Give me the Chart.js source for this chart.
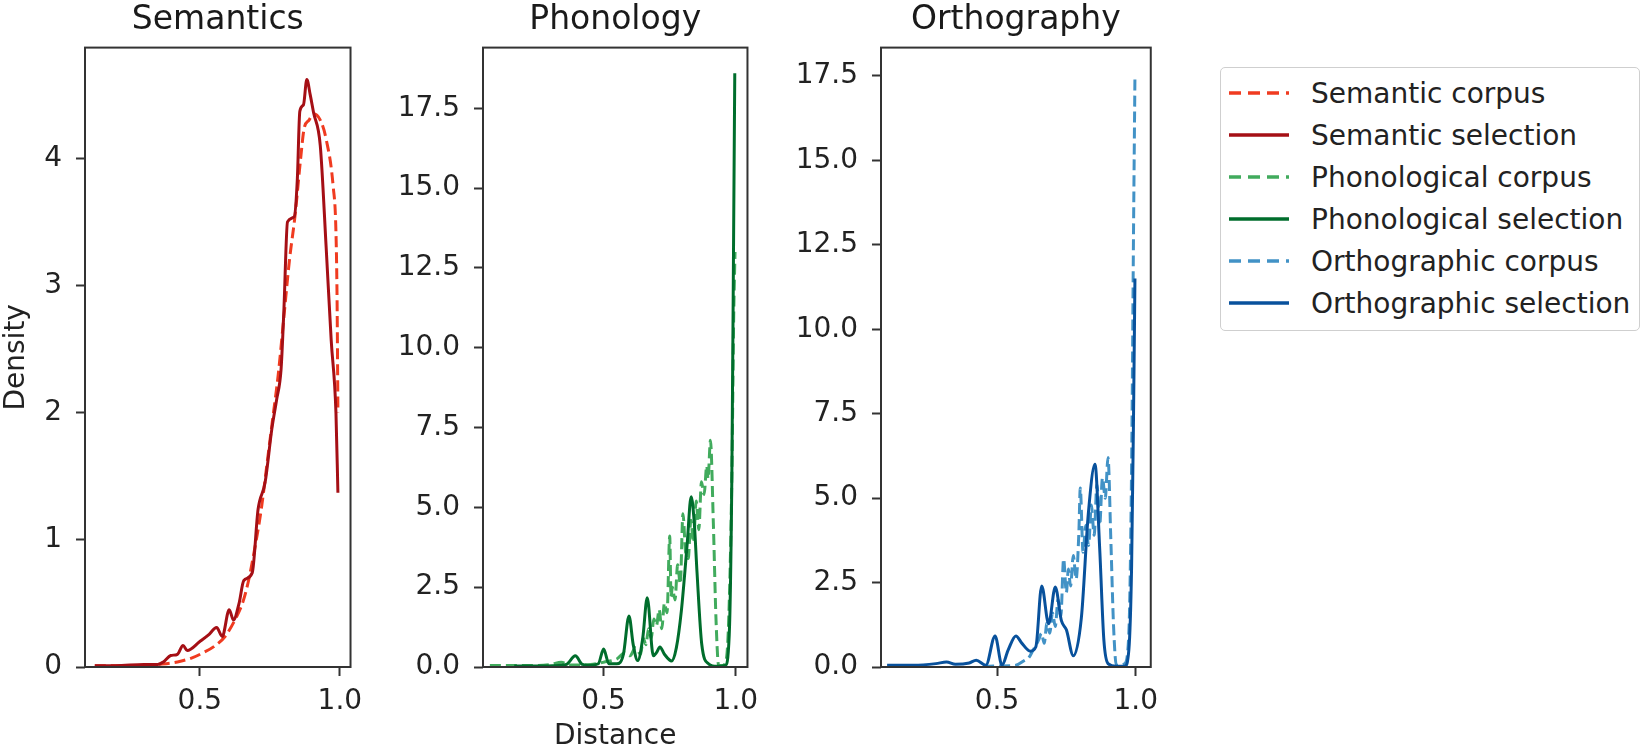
<!DOCTYPE html>
<html>
<head>
<meta charset="utf-8">
<script src="https://cdn.jsdelivr.net/npm/chart.js@4.4.1/dist/chart.umd.min.js"></script>
<style>
  body { margin: 0; background: #fff; font-family: 'DejaVu Sans', sans-serif; }
  .panel { position: absolute; top: 0; }
  #legend { position: absolute; left: 1220px; top: 67px; width: 418px; border: 1px solid #cfcfcf; border-radius: 5px; padding: 4px 0 6px 0; background: #fff; }
  .row { height: 42px; display: flex; align-items: center; font-size: 28px; color: #222; white-space: nowrap; }
  .row svg { margin-left: 8px; margin-right: 22px; }
</style>
</head>
<body>
<div class="panel" style="left:0px"><canvas id="c1" width="372" height="756"></canvas></div>
<div class="panel" style="left:372px"><canvas id="c2" width="396" height="756"></canvas></div>
<div class="panel" style="left:768px"><canvas id="c3" width="400" height="756"></canvas></div>
<div id="legend"></div>
<script>
// semantics
const semSelX = [0.125,0.2,0.3,0.35,0.37,0.396,0.42,0.44,0.455,0.5,0.53,0.56,0.58,0.605,0.62,0.64,0.657,0.687,0.708,0.733,0.757,0.774,0.79,0.80,0.813,0.837,0.848,0.857,0.87,0.882,0.894,0.906,0.93,0.951,0.969,0.986,0.993];
const semSelY = [0.01,0.01,0.02,0.02,0.04,0.09,0.1,0.17,0.13,0.2,0.25,0.31,0.24,0.45,0.37,0.5,0.68,0.74,1.24,1.45,1.87,2.1,2.34,2.8,3.5,3.54,3.83,4.37,4.42,4.62,4.5,4.36,4.1,3.3,2.57,2.0,1.37];
const semCorX = [0.125,0.2,0.3,0.35,0.42,0.47,0.51,0.55,0.59,0.63,0.655,0.674,0.7,0.72,0.74,0.76,0.78,0.8,0.82,0.84,0.86,0.872,0.89,0.906,0.93,0.951,0.976,0.986,0.99,0.993];
const semCorY = [0.01,0.01,0.01,0.02,0.04,0.07,0.11,0.16,0.24,0.39,0.52,0.68,0.98,1.25,1.6,1.95,2.3,2.75,3.2,3.55,4.0,4.23,4.3,4.35,4.3,4.15,3.78,3.42,2.89,2.0];

// phonology
const phoSelX = [0.162,0.25,0.33,0.36,0.393,0.42,0.45,0.48,0.5,0.52,0.55,0.575,0.596,0.612,0.629,0.648,0.665,0.688,0.7,0.713,0.73,0.757,0.775,0.794,0.816,0.831,0.843,0.853,0.871,0.897,0.93,0.96,0.975,0.985,0.992,0.996];
const phoSelY = [0.03,0.03,0.05,0.08,0.35,0.08,0.05,0.1,0.56,0.1,0.1,0.4,1.6,0.7,0.2,0.9,2.17,0.35,0.45,0.63,0.4,0.19,0.6,1.76,3.85,5.33,4.5,3.0,0.72,0.1,0.02,0.05,1.0,6.0,14.0,18.6];
const phoCorX = [0.07,0.15,0.25,0.3,0.34,0.37,0.45,0.5,0.55,0.58,0.6,0.62,0.64,0.65,0.66,0.67,0.68,0.69,0.70,0.71,0.72,0.73,0.74,0.75,0.755,0.76,0.77,0.78,0.79,0.80,0.81,0.82,0.83,0.84,0.85,0.86,0.87,0.88,0.89,0.895,0.904,0.915,0.925,0.935,0.95,0.965,0.975,0.985,0.992,0.997];
const phoCorY = [0.05,0.05,0.05,0.08,0.15,0.06,0.08,0.15,0.25,0.45,0.35,0.6,0.4,0.9,0.7,1.2,0.9,1.5,1.3,1.8,1.2,2.0,1.7,4.1,2.2,2.5,2.1,3.2,2.6,4.8,3.6,3.4,4.6,3.9,5.2,4.3,5.8,5.4,6.3,5.9,7.1,4.5,1.5,0.05,0.05,0.3,2.0,6.0,11.0,13.0];

// orthography
const ortSelX = [0.104,0.2,0.28,0.318,0.35,0.4,0.425,0.46,0.493,0.518,0.54,0.568,0.59,0.62,0.64,0.661,0.686,0.71,0.732,0.75,0.775,0.804,0.829,0.853,0.87,0.885,0.9,0.93,0.96,0.975,0.985,0.992,0.997];
const ortSelY = [0.05,0.05,0.1,0.15,0.08,0.12,0.2,0.05,0.92,0.05,0.5,0.92,0.7,0.47,0.6,2.4,1.28,2.37,1.37,1.1,0.33,1.46,4.54,6.0,3.5,0.8,0.1,0.02,0.02,0.5,3.0,7.5,11.5];
const ortCorX = [0.45,0.5,0.55,0.568,0.6,0.614,0.63,0.65,0.66,0.67,0.68,0.69,0.70,0.71,0.72,0.73,0.74,0.75,0.757,0.765,0.775,0.785,0.795,0.80,0.81,0.82,0.83,0.84,0.85,0.86,0.87,0.88,0.89,0.9,0.91,0.92,0.93,0.945,0.96,0.975,0.985,0.992,0.997];
const ortCorY = [0.02,0.03,0.04,0.05,0.2,0.27,0.5,0.8,1.0,0.7,1.3,1.0,1.6,1.2,2.0,1.5,3.2,2.2,2.9,2.4,3.3,2.6,4.0,5.3,3.4,4.2,3.6,4.8,3.9,5.4,4.2,5.6,5.0,6.2,3.8,1.2,0.05,0.05,0.1,1.0,6.0,13.0,17.5];

// ticks
const xTicks = [0.5, 1.0];
const semYTicks = [0, 1, 2, 3, 4];
const bigYTicks = [0, 2.5, 5, 7.5, 10, 12.5, 15, 17.5];

const legendNames = ['Semantic corpus','Semantic selection','Phonological corpus','Phonological selection','Orthographic corpus','Orthographic selection'];
const legendColors = ['#f03b20','#a50f15','#41ab5d','#006d2c','#4292c6','#08519c'];
const legendDashed = [true,false,true,false,true,false];

Chart.defaults.font.family = "'DejaVu Sans', sans-serif";
Chart.defaults.color = '#222';

function pts(xs, ys) {
  return xs.map((x, i) => ({x: x, y: ys[i]}));
}

const frame = {
  id: 'frame',
  afterDatasetsDraw(chart) {
    const a = chart.chartArea, ctx = chart.ctx;
    ctx.save();
    ctx.strokeStyle = '#333';
    ctx.lineWidth = 2;
    ctx.strokeRect(a.left, a.top, a.right - a.left, a.bottom - a.top);
    ctx.restore();
  }
};

function makePanel(id, title, sel, cor, selColor, corColor, xmin, xmax, ymax, yTicks, yDec, yw, rightPad, yTitle, xTitle) {
  new Chart(document.getElementById(id), {
    type: 'line',
    data: {
      datasets: [
        {data: sel, borderColor: selColor, borderWidth: 3, pointRadius: 0, cubicInterpolationMode: 'monotone'},
        {data: cor, borderColor: corColor, borderWidth: 3, borderDash: [11, 5], pointRadius: 0, cubicInterpolationMode: 'monotone'}
      ]
    },
    options: {
      responsive: false,
      animation: false,
      layout: {padding: {top: 0, right: rightPad, bottom: 0, left: 0}},
      plugins: {
        legend: {display: false},
        tooltip: {enabled: false},
        title: {display: true, text: title, fullSize: false, color: '#1a1a1a',
                font: {size: 33, weight: 'normal'}, padding: {top: 1, bottom: 7}}
      },
      scales: {
        x: {
          type: 'linear', min: xmin, max: xmax,
          afterBuildTicks: s => { s.ticks = xTicks.map(v => ({value: v})); },
          afterFit: s => { s.height = 89; },
          grid: {drawOnChartArea: false, drawTicks: true, tickLength: 9, tickWidth: 2, tickColor: '#333'},
          border: {display: false},
          ticks: {font: {size: 28}, color: '#222', padding: 9, maxRotation: 0, callback: v => v.toFixed(1)},
          title: {display: !!xTitle, text: xTitle || '', font: {size: 28}, color: '#222', padding: {top: 0, bottom: 2}}
        },
        y: {
          type: 'linear', min: 0, max: ymax,
          afterBuildTicks: s => { s.ticks = yTicks.map(v => ({value: v})); },
          afterFit: s => { s.width = yw; },
          grid: {drawOnChartArea: false, drawTicks: true, tickLength: 9, tickWidth: 2, tickColor: '#333'},
          border: {display: false},
          ticks: {font: {size: 28}, color: '#222', padding: 14, callback: v => v.toFixed(yDec)},
          title: {display: !!yTitle, text: yTitle || '', font: {size: 28}, color: '#222', padding: {top: 0, bottom: 0}}
        }
      }
    },
    plugins: [frame]
  });
}

makePanel('c1', 'Semantics', pts(semSelX, semSelY), pts(semCorX, semCorY), legendColors[1], legendColors[0],
  0.09, 1.038, 4.87, semYTicks, 0, 85, 14, 'Density', null);
makePanel('c2', 'Phonology', pts(phoSelX, phoSelY), pts(phoCorX, phoCorY), legendColors[3], legendColors[2],
  0.044, 1.044, 19.4, bigYTicks, 1, 111, 13, null, 'Distance');
makePanel('c3', 'Orthography', pts(ortSelX, ortSelY), pts(ortCorX, ortCorY), legendColors[5], legendColors[4],
  0.082, 1.054, 18.34, bigYTicks, 1, 113, 15, null, null);

// legend
const lg = document.getElementById('legend');
legendNames.forEach((name, i) => {
  const dash = legendDashed[i] ? 'stroke-dasharray="12,7"' : '';
  lg.innerHTML += '<div class="row"><svg width="60" height="8"><line x1="0" y1="4" x2="60" y2="4" stroke="' +
    legendColors[i] + '" stroke-width="3.5" ' + dash + '/></svg><span>' + name + '</span></div>';
});
</script>
</body>
</html>
